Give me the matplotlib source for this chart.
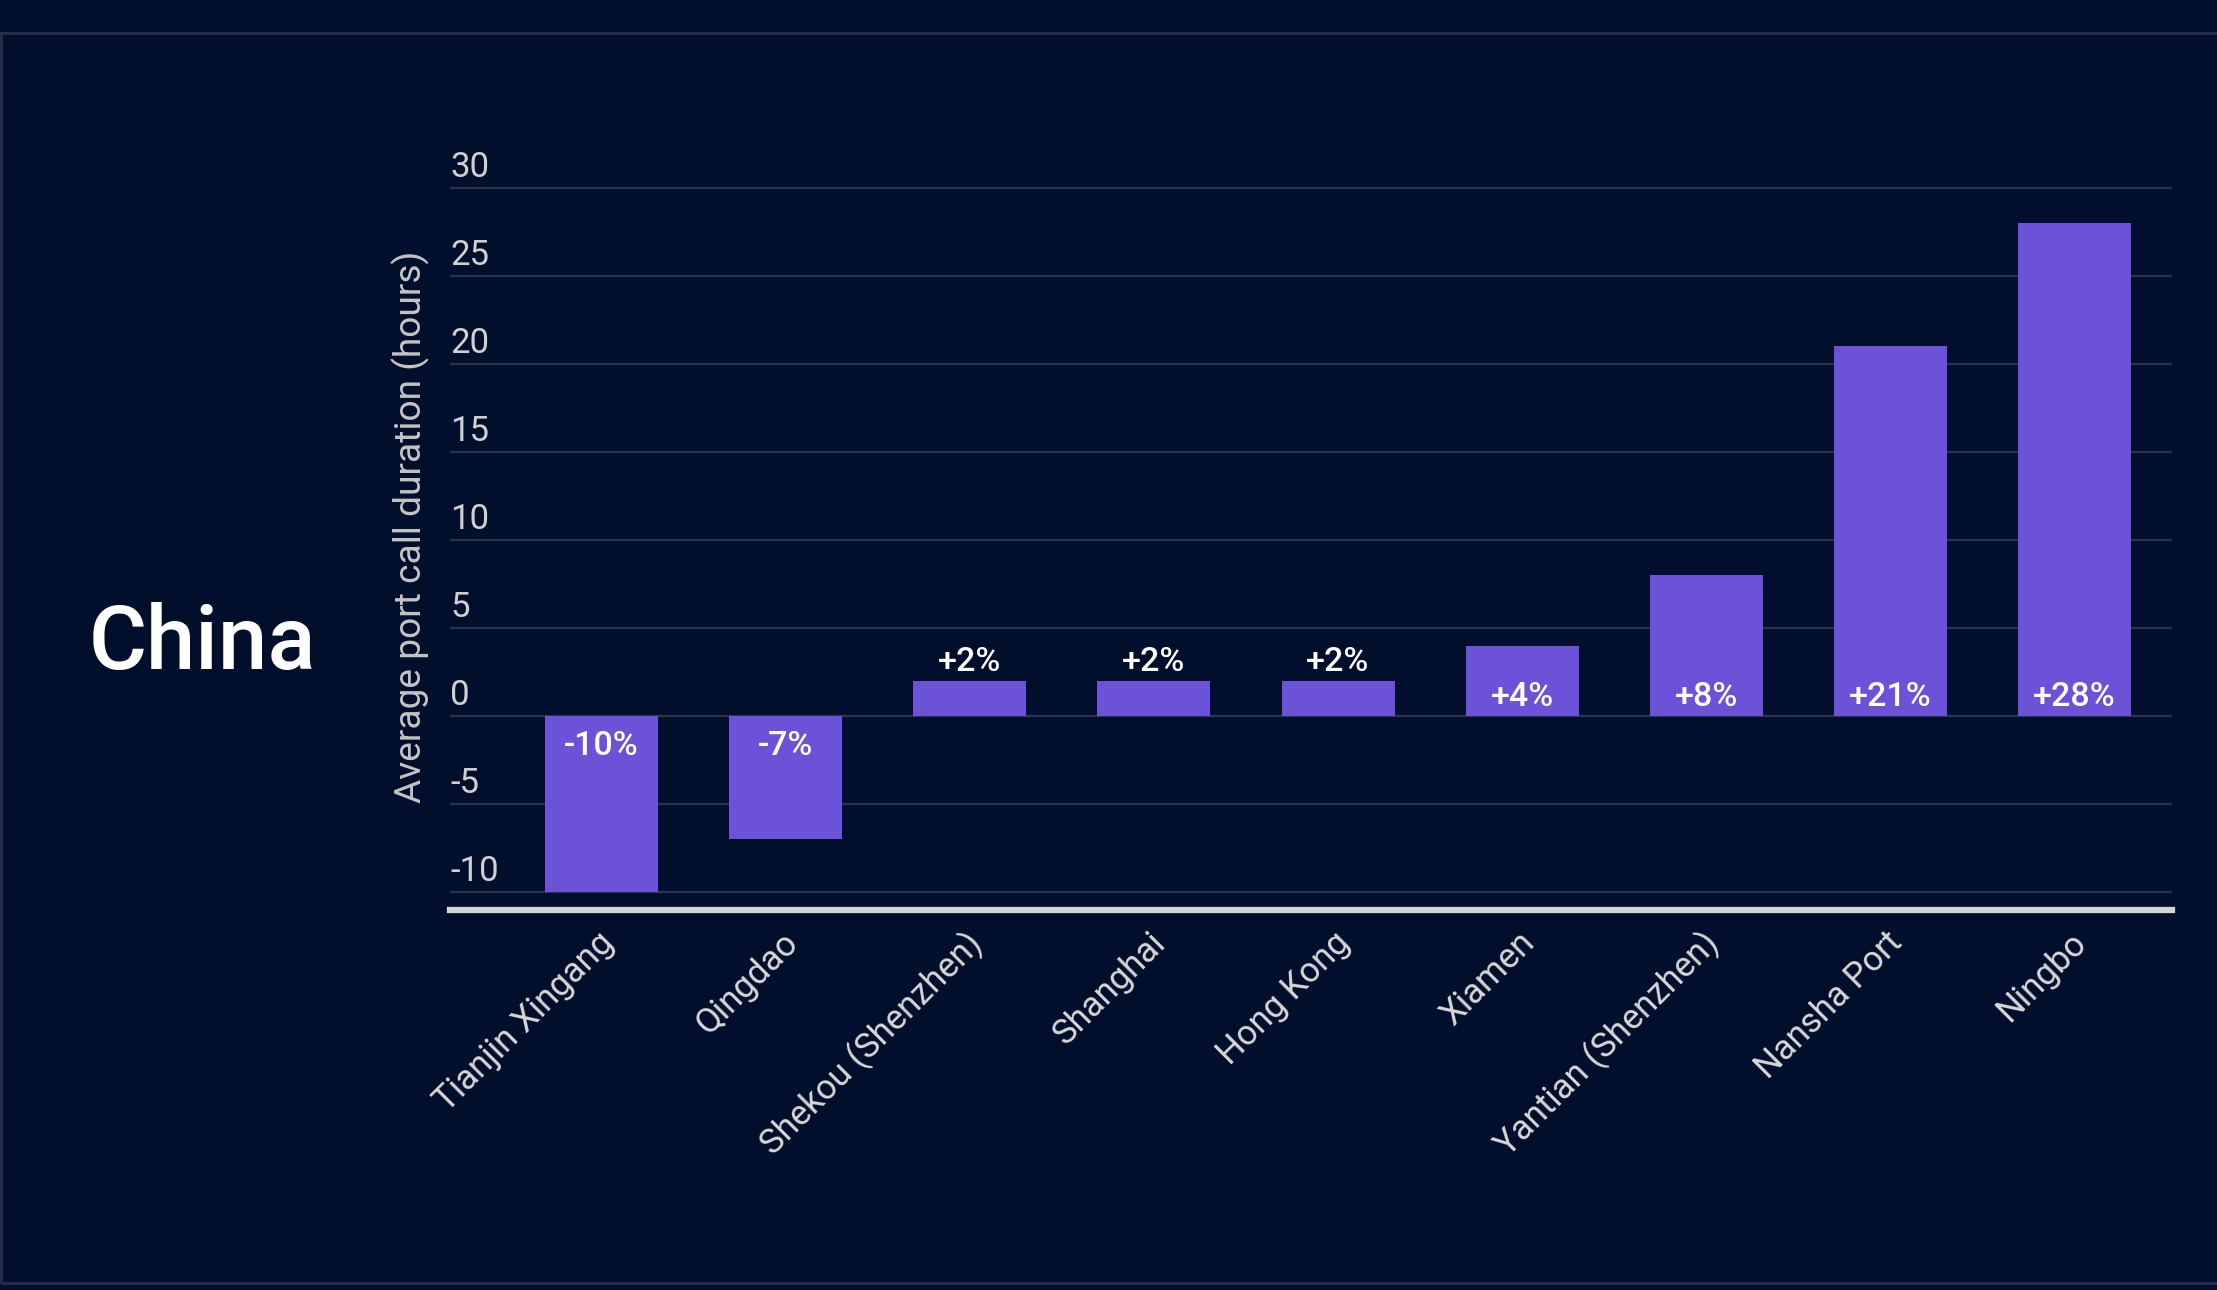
import matplotlib
matplotlib.use("Agg")
import matplotlib.pyplot as plt
from matplotlib.patches import Rectangle
from matplotlib.transforms import ScaledTranslation

ports = ["Tianjin Xingang", "Qingdao", "Shekou (Shenzhen)", "Shanghai", "Hong Kong",
         "Xiamen", "Yantian (Shenzhen)", "Nansha Port", "Ningbo"]
values = [-10, -7, 2, 2, 2, 4, 8, 21, 28]
pct_labels = ["-10%", "-7%", "+2%", "+2%", "+2%", "+4%", "+8%", "+21%", "+28%"]
yticks = [-10, -5, 0, 5, 10, 15, 20, 25, 30]
ytick_labels = ["-10", "-5", "0", "5", "10", "15", "20", "25", "30"]
region = "China"
ylabel = "Average port call duration (hours)"

BG = "#020f2c"
BAR = "#6c52d9"
GRID = "#2a344b"

plt.rcParams["font.family"] = ["Roboto", "DejaVu Sans"]

W, H = 2217, 1290
fig = plt.figure(figsize=(W / 100, H / 100), dpi=100, facecolor=BG)

# frame
fig.patches.append(Rectangle((0.0004, 1 - 1283 / H), 1.2, (1283 - 33) / H,
                             transform=fig.transFigure, facecolor="none",
                             edgecolor="#232c42", linewidth=2.2, zorder=0))

ax = fig.add_axes([450 / W, (H - 909.7) / H, 1722 / W, (909.7 - 170.4) / H])
ax.set_facecolor(BG)
ax.set_xlim(-0.824, 8.53)
ax.set_ylim(-11, 31)
for s in ax.spines.values():
    s.set_visible(False)

for v in yticks:
    ax.axhline(v, color=GRID, linewidth=1.6, zorder=1)
ax.axhline(-11, color="#d4d4d4", linewidth=4.5, zorder=3, clip_on=False)

x = list(range(len(ports)))
ax.bar(x, values, width=0.614, color=BAR, zorder=2)

ax.set_yticks([])
for v, lab in zip(yticks, ytick_labels):
    ax.annotate(lab, xy=(0, v), xycoords=ax.get_yaxis_transform(),
                xytext=(0, 8), textcoords="offset points",
                ha="left", va="baseline", fontsize=25, color="#d0d0d0")

ax.set_xticks(x)
ax.set_xticklabels(ports, rotation=45, ha="right", va="center",
                   rotation_mode="anchor", fontsize=25, color="#d8d8d8")
ax.tick_params(axis="x", length=0, pad=16)
shift = ScaledTranslation(7 / 100, -6 / 100, fig.dpi_scale_trans)
for t in ax.get_xticklabels():
    t.set_transform(t.get_transform() + shift)

for xi, v, lab in zip(x, values, pct_labels):
    if v < 0:
        ax.annotate(lab, xy=(xi, 0), xytext=(0, -10), textcoords="offset points",
                    ha="center", va="top", fontsize=24.5, color="white", weight="medium", zorder=4)
    elif v < 3:
        ax.annotate(lab, xy=(xi, v), xytext=(0, 7), textcoords="offset points",
                    ha="center", va="baseline", fontsize=24.5, color="white", weight="medium", zorder=4)
    else:
        ax.annotate(lab, xy=(xi, 0), xytext=(0, 7), textcoords="offset points",
                    ha="center", va="baseline", fontsize=24.5, color="white", weight="medium", zorder=4)

fig.text(411 / W, (H - 527) / H, ylabel, rotation=90, ha="center", va="center",
         fontsize=26.7, color="#c4c4c4")
fig.text(89 / W, (H - 669) / H, region, ha="left", va="baseline",
         fontsize=64, color="white", weight="medium")

fig.savefig("out.png", dpi=100, facecolor=BG)
